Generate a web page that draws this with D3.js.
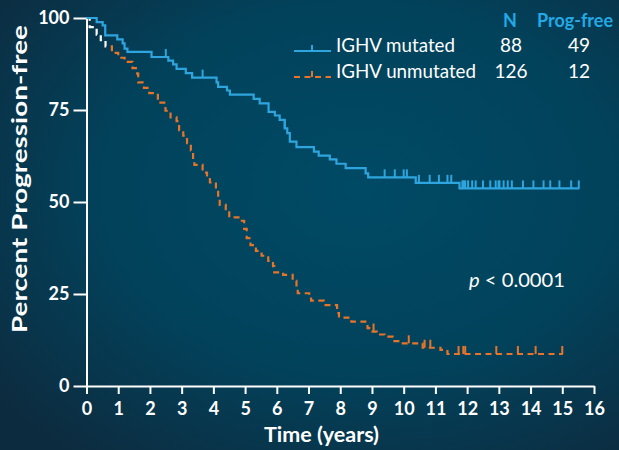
<!DOCTYPE html>
<html>
<head>
<meta charset="utf-8">
<script src="https://cdn.jsdelivr.net/npm/d3@7"></script>
<style>
  html, body { margin: 0; padding: 0; background: #023f57; }
  svg { display: block; }
  text { font-family: Lato, "Open Sans", sans-serif; }
</style>
</head>
<body>
<svg id="chart" width="619" height="450"></svg>
<script>
// Kaplan–Meier progression-free survival by IGHV status
const groups = ["IGHV mutated", "IGHV unmutated"];
const groupN = [88, 126];
const groupProgFree = [49, 12];

// [time in years, percent progression-free after the event]
const mutatedSteps = [
  [0.32, 98.9], [0.51, 98.0], [0.59, 95.3], [0.97, 94.2], [1.14, 93.1],
  [1.20, 91.7], [1.29, 90.8], [2.05, 89.4], [2.58, 88.4], [2.73, 87.4],
  [2.84, 86.2], [3.13, 85.0], [3.33, 83.8], [4.10, 82.5], [4.15, 81.3],
  [4.43, 80.3], [4.52, 79.2], [5.27, 78.0], [5.46, 76.8], [5.74, 74.5],
  [5.94, 73.5], [6.09, 72.3], [6.25, 70.0], [6.33, 68.7], [6.41, 66.4],
  [6.62, 64.9], [7.17, 63.7], [7.32, 62.6], [7.67, 61.6], [7.88, 60.4],
  [8.17, 59.2], [8.80, 57.8], [8.88, 56.7], [10.38, 55.2], [11.76, 53.7]
];
const mutatedCensors = [
  2.50, 3.66, 6.25, 9.40, 9.72, 10.00, 10.10, 10.48, 10.82, 11.11, 11.38,
  11.50, 11.85, 11.90, 11.94, 12.03, 12.16, 12.27, 12.50, 12.73, 12.90,
  12.99, 13.02, 13.15, 13.28, 13.41, 13.76, 14.09, 14.41, 14.62, 14.91,
  15.28, 15.52
];
const mutatedEnd = 15.54;

const unmutatedSteps = [
  [0.10, 97.5], [0.32, 95.5], [0.45, 94.0], [0.60, 92.3], [0.80, 90.5],
  [1.00, 89.2], [1.20, 88.1], [1.45, 86.4], [1.60, 84.9], [1.63, 82.5],
  [1.81, 81.0], [1.98, 79.6], [2.25, 77.0], [2.49, 74.8], [2.65, 73.0],
  [2.84, 72.0], [2.92, 69.5], [3.05, 68.0], [3.17, 66.0], [3.29, 64.0],
  [3.36, 61.5], [3.40, 60.1], [3.66, 58.0], [3.80, 56.5], [3.89, 55.3],
  [4.08, 53.3], [4.15, 50.8], [4.20, 49.2], [4.39, 47.2], [4.50, 45.8],
  [4.83, 44.9], [4.97, 42.7], [5.05, 40.2], [5.17, 38.3], [5.34, 36.7],
  [5.52, 35.4], [5.73, 34.0], [5.88, 32.6], [5.92, 30.9], [6.20, 30.2],
  [6.50, 28.6], [6.62, 26.8], [6.66, 25.2], [7.02, 24.1], [7.08, 23.2],
  [7.48, 22.0], [7.90, 19.8], [7.96, 18.6], [8.35, 17.5], [8.86, 15.7],
  [8.95, 14.8], [9.15, 14.0], [9.40, 13.4], [9.65, 12.2], [9.90, 11.6],
  [10.60, 10.4], [11.16, 9.8], [11.38, 8.7]
];
const unmutatedCensors = [
  9.05, 10.16, 10.66, 10.84, 11.73, 11.88, 11.94, 12.92, 13.60, 14.16, 15.00
];
const unmutatedEnd = 15.02;

const xTickValues = [0, 1, 2, 3, 4, 5, 6, 7, 8, 9, 10, 11, 12, 13, 14, 15, 16];
const yTickValues = [0, 25, 50, 75, 100];
const pValueLabel = "< 0.0001";

const blue = "#2ea5de";
const orange = "#e8742a";
const headBlue = "#22a9e6";

const svg = d3.select("#chart");

// background
const defs = svg.append("defs");
const grad = defs.append("radialGradient")
  .attr("id", "bg").attr("cx", "58%").attr("cy", "42%").attr("r", "75%");
grad.append("stop").attr("offset", "0%").attr("stop-color", "#004a65");
grad.append("stop").attr("offset", "55%").attr("stop-color", "#02425b");
grad.append("stop").attr("offset", "100%").attr("stop-color", "#0d2b3f");
svg.append("rect").attr("width", 619).attr("height", 450).attr("fill", "url(#bg)");

const x = d3.scaleLinear().domain([0, 16]).range([86.5, 594]);
const y = d3.scaleLinear().domain([0, 100]).range([386, 18]);

// axes
const xAxis = svg.append("g")
  .attr("transform", `translate(0,${y(0)})`)
  .call(d3.axisBottom(x).tickValues(xTickValues).tickSize(8).tickSizeOuter(0).tickPadding(8));
const yAxis = svg.append("g")
  .attr("transform", `translate(${x(0)},0)`)
  .call(d3.axisLeft(y).tickValues(yTickValues).tickSize(13).tickSizeOuter(0).tickPadding(4));
[xAxis, yAxis].forEach(g => {
  g.selectAll("path, line").attr("stroke", "#ffffff").attr("stroke-width", 2);
  g.selectAll("text").attr("fill", "#ffffff").attr("font-size", 18)
    .attr("font-weight", "bold").attr("font-family", "Lato, sans-serif");
});

svg.append("text")
  .attr("x", 264).attr("y", 442)
  .attr("fill", "#fff")
  .attr("font-size", 20).attr("font-weight", "bold")
  .attr("textLength", 115).attr("lengthAdjust", "spacingAndGlyphs")
  .text("Time (years)");

svg.append("text")
  .attr("transform", "translate(27,333) rotate(-90)")
  .attr("fill", "#fff")
  .attr("font-size", 21).attr("font-weight", "bold")
  .attr("textLength", 308).attr("lengthAdjust", "spacingAndGlyphs")
  .text("Percent Progression-free");

// step curves
function stepPoints(steps, end) {
  const pts = [[0, 100]].concat(steps);
  pts.push([end, steps[steps.length - 1][1]]);
  return pts;
}
function levelAt(steps, t) {
  let v = 100;
  for (const s of steps) { if (s[0] <= t) v = s[1]; }
  return v;
}
const line = d3.line().x(d => x(d[0])).y(d => y(d[1])).curve(d3.curveStepAfter);

const plot = svg.append("g");

// early portion of the unmutated curve is drawn in white
const whiteUntil = 0.66;
defs.append("clipPath").attr("id", "clipLate")
  .append("rect").attr("x", x(whiteUntil)).attr("y", 0).attr("width", 619).attr("height", 450);
defs.append("clipPath").attr("id", "clipEarly")
  .append("rect").attr("x", 0).attr("y", 0).attr("width", x(whiteUntil)).attr("height", 450);

const unPts = stepPoints(unmutatedSteps, unmutatedEnd);
plot.append("path").datum(unPts)
  .attr("d", line).attr("fill", "none")
  .attr("stroke", orange).attr("stroke-width", 2.2)
  .attr("stroke-dasharray", "6,4.5")
  .attr("clip-path", "url(#clipLate)");
plot.append("path").datum(unPts)
  .attr("d", line).attr("fill", "none")
  .attr("stroke", "#ffffff").attr("stroke-width", 2.2)
  .attr("stroke-dasharray", "6,4.5")
  .attr("clip-path", "url(#clipEarly)");
plot.selectAll(".cu").data(unmutatedCensors).join("line")
  .attr("x1", d => x(d)).attr("x2", d => x(d))
  .attr("y1", d => y(levelAt(unmutatedSteps, d)))
  .attr("y2", d => y(levelAt(unmutatedSteps, d)) - 8)
  .attr("stroke", orange).attr("stroke-width", 2);

plot.append("path").datum(stepPoints(mutatedSteps, mutatedEnd))
  .attr("d", line).attr("fill", "none")
  .attr("stroke", blue).attr("stroke-width", 2.2);
plot.selectAll(".cm").data(mutatedCensors).join("line")
  .attr("x1", d => x(d)).attr("x2", d => x(d))
  .attr("y1", d => y(levelAt(mutatedSteps, d)))
  .attr("y2", d => y(levelAt(mutatedSteps, d)) - 8)
  .attr("stroke", blue).attr("stroke-width", 2);

// legend
const legend = svg.append("g");
legend.append("text").attr("x", 510).attr("y", 27).attr("text-anchor", "middle")
  .attr("fill", headBlue).attr("font-size", 18).attr("font-weight", "bold").text("N");
legend.append("text").attr("x", 537).attr("y", 27)
  .attr("fill", headBlue).attr("font-size", 18).attr("font-weight", "bold")
  .attr("textLength", 76).attr("lengthAdjust", "spacingAndGlyphs").text("Prog-free");

const rowY = [51, 77];
const rowColor = [blue, orange];
const rowDash = [null, "6,4.5"];
const labelWidths = [119, 140];
groups.forEach((g, i) => {
  legend.append("line")
    .attr("x1", 294).attr("x2", 331).attr("y1", rowY[i]).attr("y2", rowY[i])
    .attr("stroke", rowColor[i]).attr("stroke-width", 2.2)
    .attr("stroke-dasharray", rowDash[i]);
  legend.append("line")
    .attr("x1", 312).attr("x2", 312).attr("y1", rowY[i]).attr("y2", rowY[i] - 6)
    .attr("stroke", rowColor[i]).attr("stroke-width", 2);
  legend.append("text").attr("x", 336).attr("y", rowY[i] + 1)
    .attr("fill", "#fff").attr("font-size", 19)
    .attr("textLength", labelWidths[i]).attr("lengthAdjust", "spacingAndGlyphs")
    .text(g);
  legend.append("text").attr("x", 511).attr("y", rowY[i] + 1).attr("text-anchor", "middle")
    .attr("fill", "#fff").attr("font-size", 19).text(groupN[i]);
  legend.append("text").attr("x", 579).attr("y", rowY[i] + 1).attr("text-anchor", "middle")
    .attr("fill", "#fff").attr("font-size", 19).text(groupProgFree[i]);
});

// log-rank p value
const pText = svg.append("text").attr("x", 469).attr("y", 287)
  .attr("fill", "#fff").attr("font-size", 19)
  .attr("textLength", 96).attr("lengthAdjust", "spacingAndGlyphs");
pText.append("tspan").attr("font-style", "italic").text("p");
pText.append("tspan").text(" " + pValueLabel);
</script>
</body>
</html>
